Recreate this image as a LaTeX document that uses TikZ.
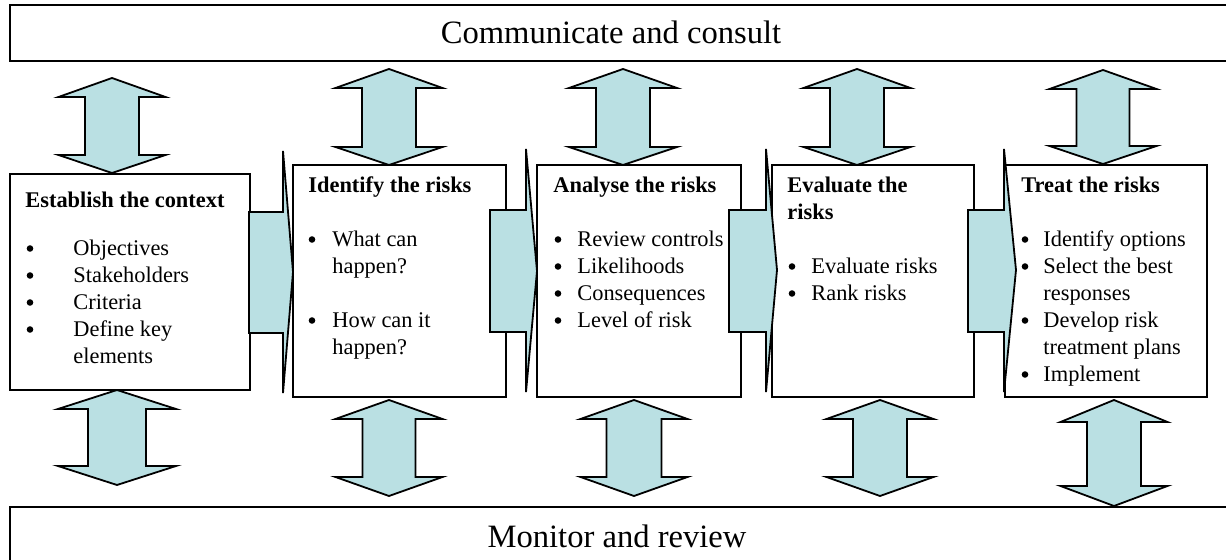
\documentclass[tikz,border=0pt]{standalone}
\usepackage{fontspec}
\setmainfont{Liberation Serif}

\definecolor{flowfill}{RGB}{186,224,227}

% indented list line, text starting at #1
\newcommand\cont[2]{\hspace*{#1}#2}

% vertical double block arrow: centre x, top tip, upper wing, lower wing, bottom tip, half wing, half shaft
\newcommand\vdarrow[7]{%
  \path[blockarrow] (#1,#2) -- ({#1+#6},#3) -- ({#1+#7},#3) -- ({#1+#7},#4) -- ({#1+#6},#4)
    -- (#1,#5) -- ({#1-#6},#4) -- ({#1-#7},#4) -- ({#1-#7},#3) -- ({#1-#6},#3) -- cycle;}

% right-pointing block arrow: shaft start, head base, tip x, shaft top, shaft bottom, wing top, wing bottom, tip y
\newcommand\hrarrow[8]{%
  \path[blockarrow] (#1,#4) -- (#2,#4) -- (#2,#6) -- (#3,#8) -- (#2,#7) -- (#2,#5) -- (#1,#5) -- cycle;}

% list bullet centred at x = #1, sitting on the baseline y = #2
\newcommand\listdot[2]{\fill ({#1},{#2-7.5}) circle[radius=1.65pt];}

\tikzset{
  stagebox/.style={draw, line width=0.9pt, fill=white, inner sep=0pt},
  blockarrow/.style={draw, fill=flowfill, line width=0.9pt, line join=miter},
  bodytext/.style={inner sep=0pt, anchor=base west, font=\fontsize{11.2pt}{13.5pt}\selectfont},
  bandtext/.style={inner sep=0pt, anchor=base, font=\fontsize{16.3pt}{19pt}\selectfont},
}

\begin{document}
\begin{tikzpicture}[x=0.5pt, y=-0.5pt]
  \useasboundingbox (0,0) rectangle (1226,560);
  \clip (0,0) rectangle (1226,560);

  % bands across the top and bottom
  \node[stagebox, minimum width=620pt, minimum height=28pt] (comm) at (630,33) {};
  \node[stagebox, minimum width=620pt, minimum height=46.5pt] (mon) at (630,553.5) {};
  \node[bandtext] (commlabel) at (611,44) {Communicate and consult};
  \node[bandtext] (monlabel) at (617,548) {Monitor and review};

  % process stages
  \node[stagebox, minimum width=120pt, minimum height=108pt] (ctx) at (130,282) {};
  \node[stagebox, minimum width=106.5pt, minimum height=116pt] (ident) at (399.5,281) {};
  \node[stagebox, minimum width=102pt, minimum height=116pt] (anal) at (639,281) {};
  \node[stagebox, minimum width=101pt, minimum height=116pt] (eval) at (873,281) {};
  \node[stagebox, minimum width=101pt, minimum height=116pt] (treat) at (1106,281) {};

  % arrows from one stage to the next
  \hrarrow{249}{283}{293}{212}{333}{151}{393}{272}
  \hrarrow{490}{526}{537}{210}{332}{149}{392}{271}
  \hrarrow{729}{766}{777}{210}{332}{149}{392}{270}
  \hrarrow{968}{1004}{1016}{210}{332}{149}{392}{270}

  % links to communicate and consult
  \vdarrow{112}{78}{97}{155}{173}{53.5}{27}
  \vdarrow{389}{69}{88}{147}{165}{53.5}{27}
  \vdarrow{623}{69}{88}{147}{165}{54}{27}
  \vdarrow{857}{69}{88}{147}{165}{53.5}{27}
  \vdarrow{1103}{70}{89}{146}{164}{53.5}{26.5}

  % links to monitor and review
  \vdarrow{117}{390}{409}{466}{485}{59}{29}
  \vdarrow{389}{400}{419}{477}{496}{53.5}{26.5}
  \vdarrow{634}{400}{419}{477}{496}{53.5}{27.5}
  \vdarrow{880}{400}{419}{477}{496}{53.5}{27}
  \vdarrow{1114}{400}{422}{486}{506}{53.5}{27}

  % stage contents
  \node[bodytext] (ctxtitle) at (25,208) {\bfseries Establish the context};
  \node[bodytext] (ctxlist) at (25,256) {\parbox[t]{115pt}{\raggedright
    \cont{24pt}{Objectives}\\
    \cont{24pt}{Stakeholders}\\
    \cont{24pt}{Criteria}\\
    \cont{24pt}{Define key}\\
    \cont{24pt}{elements}}};

  \node[bodytext] (identtext) at (308,193) {\parbox[t]{100pt}{\raggedright
    \textbf{Identify the risks}\\[13.5pt]
    \cont{12pt}{What can}\\
    \cont{12pt}{happen?}\\[13.5pt]
    \cont{12pt}{How can it}\\
    \cont{12pt}{happen?}}};

  \node[bodytext] (analtext) at (553,193) {\parbox[t]{100pt}{\raggedright
    \textbf{Analyse the risks}\\[13.5pt]
    \cont{12pt}{Review controls}\\
    \cont{12pt}{Likelihoods}\\
    \cont{12pt}{Consequences}\\
    \cont{12pt}{Level of risk}}};

  \node[bodytext] (evaltext) at (787,193) {\parbox[t]{100pt}{\raggedright
    \textbf{Evaluate the}\\
    \textbf{risks}\\[13.5pt]
    \cont{12pt}{Evaluate risks}\\
    \cont{12pt}{Rank risks}}};

  \node[bodytext] (treattext) at (1021,193) {\parbox[t]{100pt}{\raggedright
    \textbf{Treat the risks}\\[13.5pt]
    \cont{11pt}{Identify options}\\
    \cont{11pt}{Select the best}\\
    \cont{11pt}{responses}\\
    \cont{11pt}{Develop risk}\\
    \cont{11pt}{treatment plans}\\
    \cont{11pt}{Implement}}};

  % list bullets
  \foreach \yb in {256,283,310,337} {\listdot{30}{\yb}}
  \foreach \yb in {247,328} {\listdot{312}{\yb}}
  \foreach \yb in {247,274,301,328} {\listdot{558}{\yb}}
  \foreach \yb in {274,301} {\listdot{792}{\yb}}
  \foreach \yb in {247,274,328,382} {\listdot{1025}{\yb}}
\end{tikzpicture}
\end{document}
